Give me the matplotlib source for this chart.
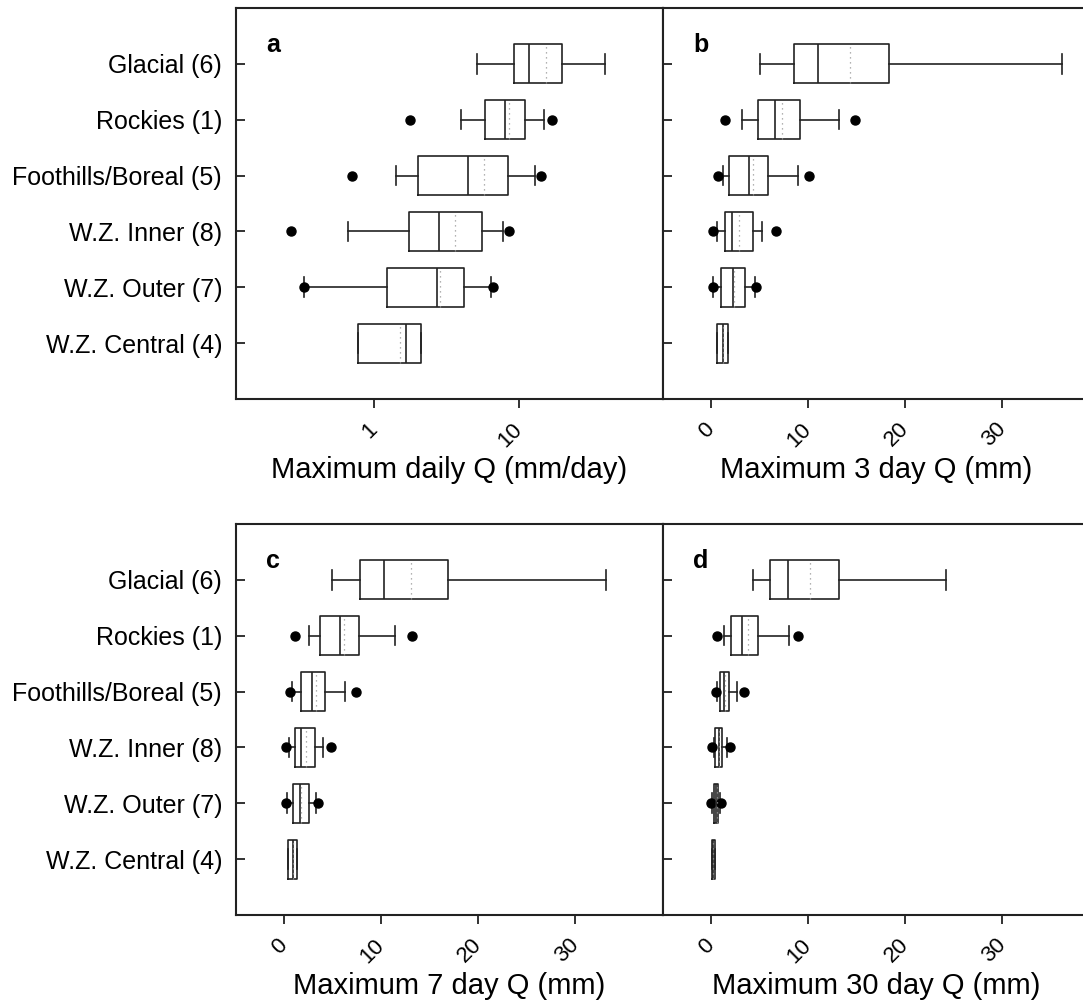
import numpy as np
import matplotlib
matplotlib.use('Agg')
import matplotlib.pyplot as plt

plt.rcParams['font.family'] = ['Liberation Sans', 'DejaVu Sans']

# regions, listed top to bottom
categories = ['Glacial (6)', 'Rockies (1)', 'Foothills/Boreal (5)',
              'W.Z. Inner (8)', 'W.Z. Outer (7)', 'W.Z. Central (4)']

# a: maximum daily Q (mm/day)
daily_whislo = [5.13, 3.96, 1.41, 0.656, 0.327, 0.772]
daily_q1 = [9.12, 5.82, 1.99, 1.73, 1.22, 0.772]
daily_med = [11.6, 7.91, 4.41, 2.81, 2.71, 1.64]
daily_mean = [15.2, 8.53, 5.67, 3.62, 2.85, 1.50]
daily_q3 = [19.7, 10.9, 8.40, 5.56, 4.18, 2.10]
daily_whishi = [39.0, 14.7, 12.9, 7.74, 6.36, 2.10]
daily_fliers = [[], [1.76, 16.9], [0.702, 14.2], [0.268, 8.43], [0.327, 6.62], []]

# b: maximum 3 day Q (mm)
q3day_whislo = [5.12, 3.23, 1.27, 0.65, 0.28, 0.65]
q3day_q1 = [8.56, 4.85, 1.93, 1.47, 1.10, 0.65]
q3day_med = [11.06, 6.57, 3.89, 2.24, 2.30, 1.27]
q3day_mean = [14.3, 7.29, 4.36, 2.92, 2.40, 1.27]
q3day_q3 = [18.3, 9.21, 5.88, 4.33, 3.58, 1.82]
q3day_whishi = [36.1, 13.2, 8.97, 5.29, 4.54, 1.82]
q3day_fliers = [[], [1.47, 14.85], [0.72, 10.07], [0.24, 6.73], [0.28, 4.71], []]

# c: maximum 7 day Q (mm)
q7day_whislo = [4.93, 2.60, 0.89, 0.55, 0.35, 0.44]
q7day_q1 = [7.84, 3.70, 1.78, 1.16, 0.92, 0.44]
q7day_med = [10.35, 5.79, 2.91, 1.78, 1.72, 1.00]
q7day_mean = [13.12, 6.24, 3.29, 2.26, 1.80, 1.00]
q7day_q3 = [16.93, 7.78, 4.21, 3.22, 2.60, 1.37]
q7day_whishi = [33.1, 11.48, 6.27, 4.08, 3.29, 1.37]
q7day_fliers = [[], [1.16, 13.16], [0.65, 7.47], [0.21, 4.90], [0.21, 3.49], []]

# d: maximum 30 day Q (mm)
q30day_whislo = [4.39, 1.34, 0.62, 0.34, 0.16, 0.10]
q30day_q1 = [6.08, 2.12, 0.93, 0.47, 0.37, 0.10]
q30day_med = [8.00, 3.26, 1.40, 0.82, 0.58, 0.25]
q30day_mean = [10.16, 3.88, 1.51, 0.89, 0.60, 0.25]
q30day_q3 = [13.15, 4.91, 1.89, 1.20, 0.78, 0.47]
q30day_whishi = [24.2, 8.07, 2.74, 1.68, 0.93, 0.47]
q30day_fliers = [[], [0.65, 8.93], [0.52, 3.43], [0.16, 2.02], [0.0, 1.06], []]

LINE = '#222222'


def draw_panel(ax, whislo, q1, med, mean, q3, whishi, fliers):
    stats = []
    for i in range(len(categories)):
        stats.append(dict(whislo=whislo[i], q1=q1[i], med=med[i], mean=mean[i],
                          q3=q3[i], whishi=whishi[i], fliers=fliers[i]))
    positions = np.arange(len(categories), 0, -1)
    line = dict(color=LINE, linewidth=1.2)
    ax.bxp(stats, positions=positions, widths=0.7, capwidths=0.35,
           orientation='horizontal', showmeans=True, meanline=True,
           manage_ticks=False,
           boxprops=line, medianprops=line, whiskerprops=line, capprops=line,
           flierprops=dict(marker='o', markerfacecolor='black',
                           markeredgecolor='black', markersize=6.5),
           meanprops=dict(color='#999999', linestyle=(0, (1, 3)), linewidth=0.9))
    ax.set_ylim(0, 7)
    ax.set_yticks(positions)
    for s in ax.spines.values():
        s.set_linewidth(1.5)
        s.set_color(LINE)
    ax.tick_params(axis='y', direction='in', length=6.5, width=1.3, pad=10,
                   labelsize=18, color=LINE)
    ax.tick_params(axis='x', direction='out', length=6.5, width=1.3, pad=13,
                   labelsize=16, color=LINE)


def style_xticks(ax, ticks, labels):
    ax.set_xticks(ticks)
    ax.set_xticklabels(labels, rotation=45, ha='right', va='center',
                       rotation_mode='anchor')
    ax.minorticks_off()


fig = plt.figure(figsize=(10.83, 10.06), dpi=100)

col_x = [0.2179, 0.6122]
col_w = 0.3943
row_y = [0.6034, 0.0905]
row_h = 0.3887

panels = [
    ('a', 'Maximum daily Q (mm/day)', daily_whislo, daily_q1, daily_med,
     daily_mean, daily_q3, daily_whishi, daily_fliers),
    ('b', 'Maximum 3 day Q (mm)', q3day_whislo, q3day_q1, q3day_med,
     q3day_mean, q3day_q3, q3day_whishi, q3day_fliers),
    ('c', 'Maximum 7 day Q (mm)', q7day_whislo, q7day_q1, q7day_med,
     q7day_mean, q7day_q3, q7day_whishi, q7day_fliers),
    ('d', 'Maximum 30 day Q (mm)', q30day_whislo, q30day_q1, q30day_med,
     q30day_mean, q30day_q3, q30day_whishi, q30day_fliers),
]

for k, (letter, xlabel, *vals) in enumerate(panels):
    row, col = divmod(k, 2)
    ax = fig.add_axes([col_x[col], row_y[row], col_w, row_h])
    draw_panel(ax, *vals)
    if letter == 'a':
        ax.set_xscale('log')
        ax.set_xlim(0.111, 98)
        style_xticks(ax, [1, 10], ['1', '10'])
    else:
        ax.set_xlim(-4.9, 39.0)
        style_xticks(ax, [0, 10, 20, 30], ['0', '10', '20', '30'])
    if col == 0:
        ax.set_yticklabels(categories)
    else:
        ax.set_yticklabels([])
    ax.text(0.07, 0.888, letter, transform=ax.transAxes, fontsize=18,
            fontweight='bold', va='baseline', ha='left')
    ax.text(0.5, -0.202, xlabel, transform=ax.transAxes, fontsize=21,
            ha='center', va='baseline')

fig.savefig('out.png', dpi=100)
